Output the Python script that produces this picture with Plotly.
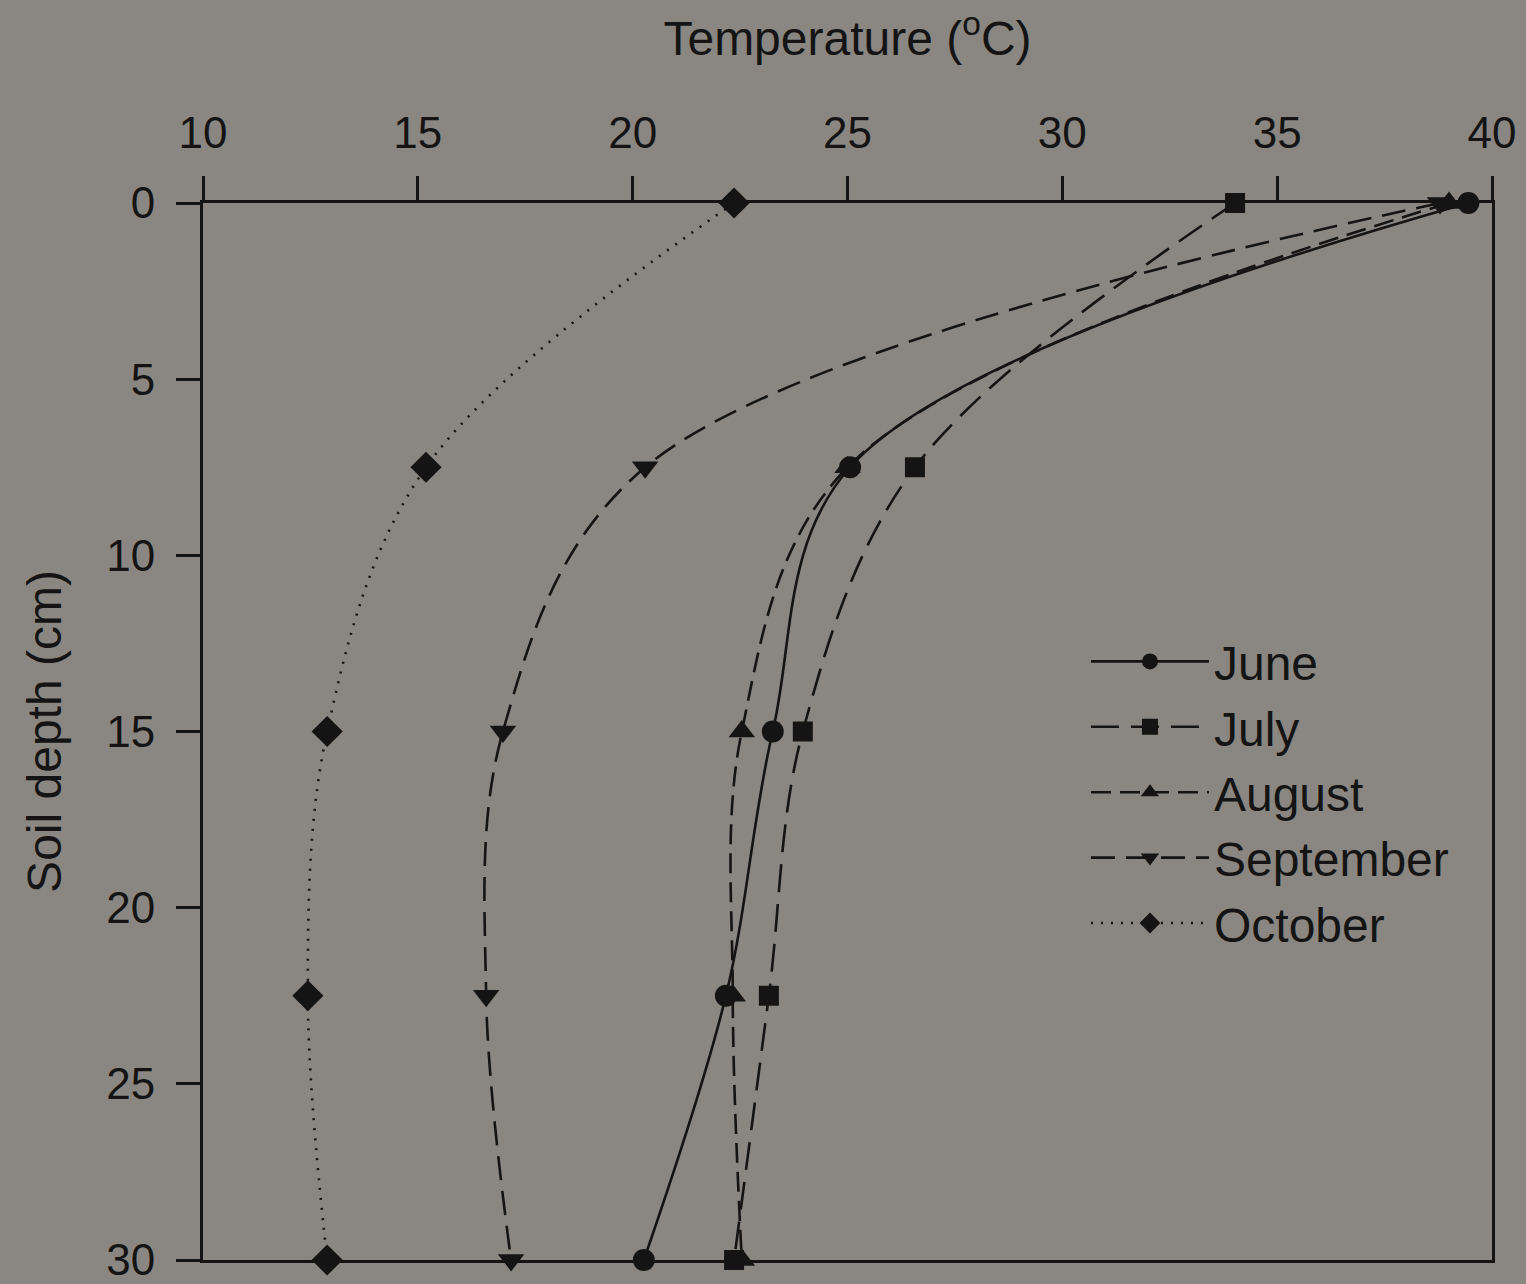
import plotly.graph_objects as go

# Soil temperature profiles by month
depth_cm = [0, 7.5, 15, 22.5, 30]
june = [39.45, 25.06, 23.26, 22.17, 20.26]
july = [34.02, 26.57, 23.96, 23.17, 22.36]
august = [39.0, 25.0, 22.54, 22.33, 22.54]
september = [38.79, 20.29, 16.98, 16.59, 17.17]
october = [22.36, 15.19, 12.89, 12.44, 12.89]

x_ticks = [10, 15, 20, 25, 30, 35, 40]
y_ticks = [0, 5, 10, 15, 20, 25, 30]

ink = "#141414"
bg = "#8a8782"
font_family = "Liberation Sans, Arial, sans-serif"

series = [
    ("June", june, "circle", "solid", 22),
    ("July", july, "square", "28px,12px", 20),
    ("August", august, "triangle-up", "20px,9px", 23),
    ("September", september, "triangle-down", "24px,11px", 23),
    ("October", october, "diamond", "2px,8px", 24),
]

fig = go.Figure()
for name, temps, symbol, dash, msize in series:
    fig.add_trace(go.Scatter(
        x=temps, y=depth_cm, name=name, mode="lines+markers",
        line=dict(color=ink, width=2.6, dash=dash, shape="spline", smoothing=1.0),
        marker=dict(symbol=symbol, size=msize, color=ink, line=dict(width=0)),
        cliponaxis=False,
    ))

fig.update_layout(
    width=1526, height=1284,
    margin=dict(l=203, r=34, t=203, b=24),
    paper_bgcolor=bg, plot_bgcolor=bg,
    font=dict(family=font_family, size=44, color=ink),
    showlegend=True,
    legend=dict(
        x=0.685, y=0.602, xanchor="left", yanchor="top",
        bgcolor="rgba(0,0,0,0)", borderwidth=0,
        font=dict(size=48, color=ink), itemwidth=118,
        tracegroupgap=0, itemclick=False,
    ),
    xaxis=dict(
        side="top", range=[10, 40], tickvals=x_ticks, automargin=False,
        ticks="outside", ticklen=24, tickwidth=3, tickcolor=ink,
        showline=True, linewidth=3, linecolor=ink, mirror=True,
        showgrid=False, zeroline=False,
        tickfont=dict(size=44, color=ink), ticklabelstandoff=10,
        ticklabeloverflow="allow",
        title=dict(text="Temperature (<sup>o</sup>C)", font=dict(size=48, color=ink), standoff=38),
    ),
    yaxis=dict(
        range=[30, 0], tickvals=y_ticks, automargin=False,
        ticks="outside", ticklen=24, tickwidth=3, tickcolor=ink,
        showline=True, linewidth=3, linecolor=ink, mirror=True,
        showgrid=False, zeroline=False,
        tickfont=dict(size=44, color=ink), ticklabelstandoff=12,
        ticklabeloverflow="allow",
        title=dict(text="Soil depth (cm)", font=dict(size=48, color=ink), standoff=30),
    ),
)

fig.write_html("out.html")
